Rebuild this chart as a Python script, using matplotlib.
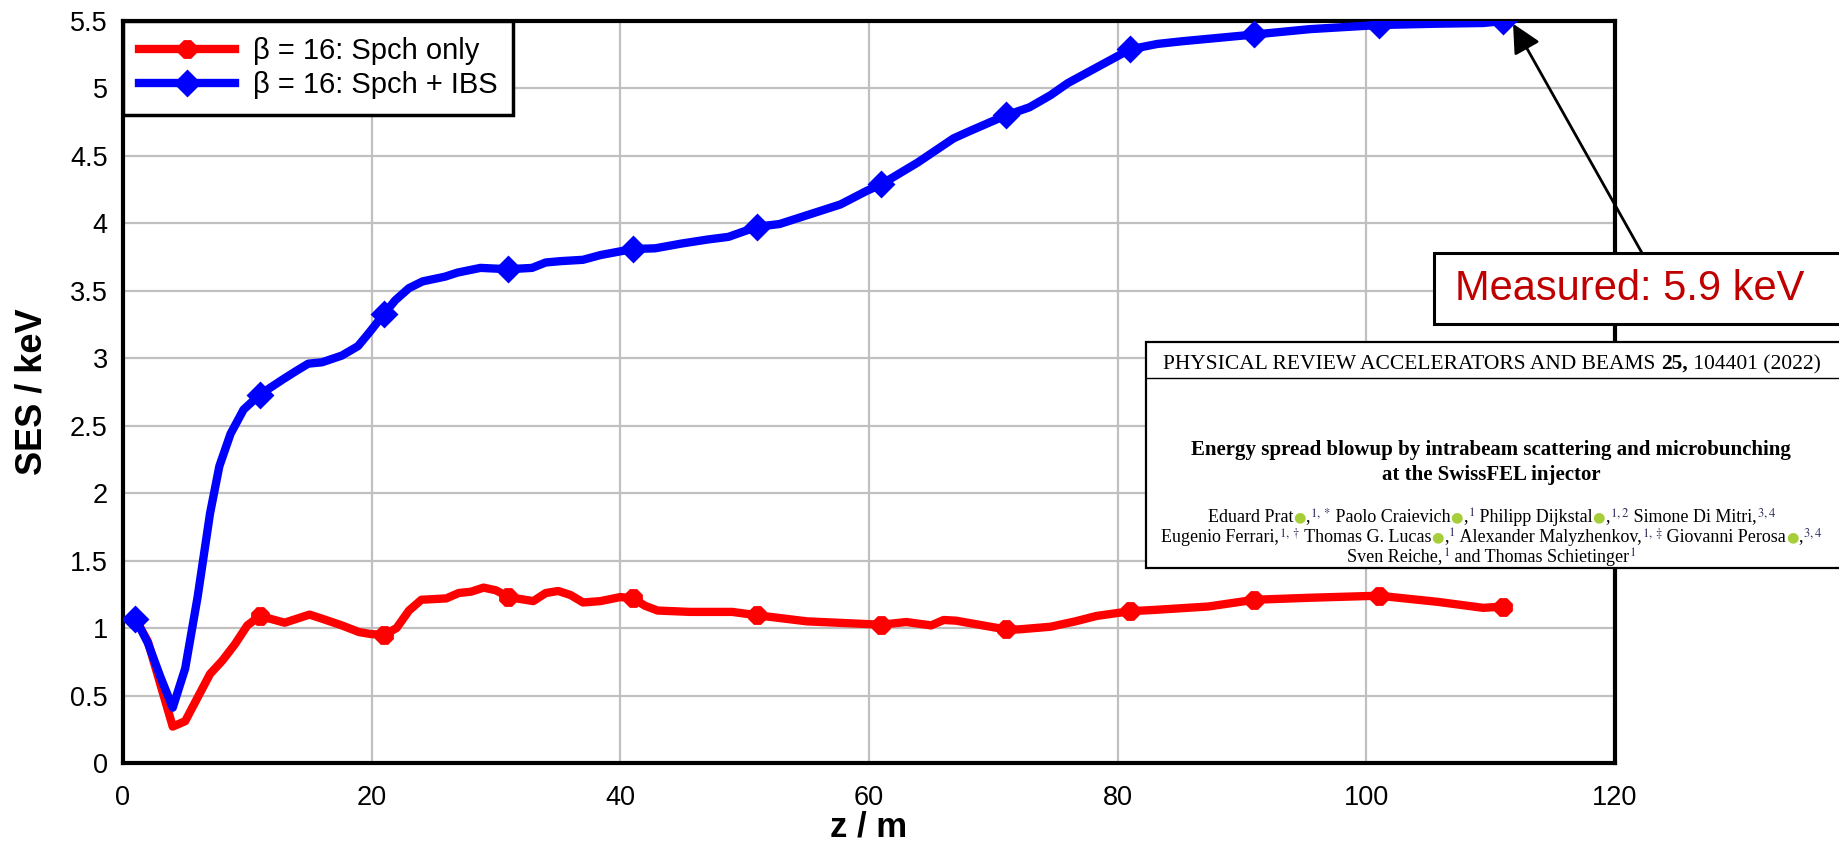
import matplotlib
matplotlib.use("Agg")
import matplotlib.pyplot as plt
from matplotlib.patches import Rectangle
from matplotlib.lines import Line2D
from matplotlib.offsetbox import TextArea, HPacker, AnnotationBbox

plt.rcParams['font.family'] = ['Liberation Sans', 'DejaVu Sans']
plt.rcParams['mathtext.fontset'] = 'stix'

# beta = 16, space charge only
z_spch = [1, 2, 4, 5, 7, 8, 9, 10, 11, 13,
          15, 16, 17.6, 19, 20, 21, 22, 23, 24, 26,
          27, 28, 29, 30, 31, 33, 34, 35, 36, 37,
          38.4, 40, 41, 42, 43, 45.6, 49, 51, 55, 61,
          63, 65, 66, 67, 71, 72, 74.6, 76.6, 78.3, 81,
          83, 87.3, 91, 95.5, 101, 105.7, 109.4, 111]
ses_spch = [1.07, 0.90, 0.27, 0.31, 0.66, 0.76, 0.88, 1.02, 1.09, 1.04,
            1.10, 1.07, 1.02, 0.97, 0.955, 0.95, 1.0, 1.13, 1.21, 1.22,
            1.26, 1.27, 1.30, 1.28, 1.23, 1.20, 1.26, 1.275, 1.245, 1.19,
            1.20, 1.23, 1.22, 1.165, 1.13, 1.12, 1.12, 1.095, 1.05, 1.025,
            1.045, 1.02, 1.06, 1.055, 0.99, 0.99, 1.01, 1.05, 1.09, 1.125,
            1.135, 1.16, 1.21, 1.225, 1.24, 1.195, 1.15, 1.16]

# beta = 16, space charge + intrabeam scattering
z_ibs = [1, 2, 3, 4, 5, 6, 7, 7.75, 8.65, 9.7,
         11, 12.8, 14, 14.9, 16, 17.6, 18.9, 19.8, 21, 21.9,
         23, 24.1, 25.9, 26.9, 28.75, 31, 32.9, 34, 35.2, 37,
         38.4, 41, 42.8, 44.9, 47, 48.7, 51, 52.8, 55, 57.7,
         59.8, 61, 63.9, 66.8, 68, 71, 72.9, 74.6, 76, 77.8,
         81, 83.2, 85.2, 91, 95.5, 101, 105.7, 109.4, 111]
ses_ibs = [1.07, 0.89, 0.64, 0.41, 0.70, 1.23, 1.85, 2.20, 2.44, 2.62,
           2.73, 2.84, 2.91, 2.96, 2.97, 3.02, 3.09, 3.19, 3.33, 3.43,
           3.52, 3.57, 3.605, 3.635, 3.67, 3.66, 3.67, 3.71, 3.72, 3.73,
           3.765, 3.81, 3.815, 3.85, 3.88, 3.90, 3.975, 3.995, 4.06, 4.14,
           4.24, 4.29, 4.45, 4.63, 4.68, 4.80, 4.86, 4.95, 5.04, 5.13,
           5.29, 5.33, 5.35, 5.40, 5.44, 5.47, 5.48, 5.485, 5.50]

marker_z = [1, 11, 21, 31, 41, 51, 61, 71, 81, 91, 101, 111]
labels = ["\u03b2 = 16: Spch only", "\u03b2 = 16: Spch + IBS"]
measured_text = "Measured: 5.9 keV"
measured_at = (111.8, 5.48)

x_ticks = [0, 20, 40, 60, 80, 100, 120]
y_ticks = [0, 0.5, 1, 1.5, 2, 2.5, 3, 3.5, 4, 4.5, 5, 5.5]
y_ticklabels = ["0", "0.5", "1", "1.5", "2", "2.5", "3", "3.5", "4", "4.5", "5", "5.5"]

W, H = 1839, 848


def fpx(x, y):
    # reference pixel (from top-left) -> figure pixels (from bottom-left)
    return (x, H - y)


fig = plt.figure(figsize=(W / 100, H / 100), dpi=100)
ax = fig.add_axes([123 / W, (H - 763) / H, (1615 - 123) / W, (763 - 21) / H])

idx_r = [i for i, z in enumerate(z_spch) if z in marker_z]
idx_b = [i for i, z in enumerate(z_ibs) if z in marker_z]
ax.plot(z_spch, ses_spch, color='#ff0000', lw=6, marker='8', ms=12.5, mew=2,
        markevery=idx_r, label=labels[0], solid_joinstyle='round', zorder=3)
ax.plot(z_ibs, ses_ibs, color='#0000ff', lw=6, marker='D', ms=12.5, mew=2,
        markevery=idx_b, label=labels[1], solid_joinstyle='round', zorder=4)

ax.set_xlim(0, 120)
ax.set_ylim(0, 5.5)
ax.set_xticks(x_ticks)
ax.set_yticks(y_ticks)
ax.set_yticklabels(y_ticklabels)
ax.tick_params(length=0, labelsize=19.5)
ax.tick_params(axis='x', pad=16)
ax.tick_params(axis='y', pad=11)
ax.grid(True, color='#c0c0c0', lw=1.6)
ax.set_axisbelow(True)
for sp in ax.spines.values():
    sp.set_linewidth(3)
    sp.set_color('black')

ax.set_xlabel("z / m", fontsize=25, fontweight='bold')
ax.set_ylabel("SES / keV", fontsize=26, fontweight='bold')
ax.xaxis.set_label_coords(0.5, -0.064)
ax.yaxis.set_label_coords(-0.049, 0.5)

leg = ax.legend(loc='upper left', fontsize=21, handlelength=3.3, handletextpad=0.6,
                borderaxespad=0, borderpad=0.55, labelspacing=0.2, fancybox=False,
                framealpha=1, edgecolor='black')
leg.get_frame().set_linewidth(2.5)

# arrow from the "Measured" box to the last point
ax.annotate("", xy=measured_at, xycoords='data',
            xytext=fpx(1642, 253), textcoords='figure pixels',
            arrowprops=dict(arrowstyle='-|>,head_length=0.7,head_width=0.35',
                            mutation_scale=25, lw=2, color='black',
                            shrinkA=0, shrinkB=0),
            annotation_clip=False, zorder=6)

# "Measured" box
x0, y0 = fpx(1434, 324)
fig.add_artist(Rectangle((x0 / W, y0 / H), (1860 - 1434) / W, (324 - 253) / H,
                         transform=fig.transFigure, facecolor='white',
                         edgecolor='black', lw=2.2, zorder=7, clip_on=False))
tx, ty = fpx(1455, 289)
fig.text(tx / W, ty / H, measured_text, color='#c00000', fontsize=30,
         ha='left', va='center', zorder=8)

# paper header inset
bx0, by0 = fpx(1146, 568)
fig.add_artist(Rectangle((bx0 / W, by0 / H), (1850 - 1146) / W, (568 - 342) / H,
                         transform=fig.transFigure, facecolor='white',
                         edgecolor='black', lw=1.6, zorder=7, clip_on=False))
ly = (H - 378) / H
fig.add_artist(Line2D([1146 / W, 1], [ly, ly], transform=fig.transFigure,
                      color='black', lw=1.0, zorder=8))

serif = ['Liberation Serif', 'DejaVu Serif']
orcid = '#a6ce39'


def add_line(pieces, xy, size):
    kids = []
    for txt, kind in pieces:
        props = dict(family=serif, fontsize=size, color='black')
        if kind == 'b':
            props['fontweight'] = 'bold'
        elif kind == 'id':
            props.update(color=orcid, fontsize=size * 0.8, family=['DejaVu Sans'])
        elif kind == 's':
            props['color'] = '#303060'
        kids.append(TextArea(txt, textprops=props))
    box = HPacker(children=kids, align='baseline', pad=0, sep=0)
    ab = AnnotationBbox(box, fpx(*xy), xycoords='figure pixels',
                        box_alignment=(0.5, 0.5), frameon=False, pad=0,
                        annotation_clip=False, zorder=9)
    fig.add_artist(ab)


add_line([("PHYSICAL REVIEW ACCELERATORS AND BEAMS ", 'n'), ("25,", 'b'),
          (" 104401 (2022)", 'n')], (1492, 364), 15.5)
add_line([("Energy spread blowup by intrabeam scattering and microbunching", 'b')],
         (1491, 450), 15)
add_line([("at the SwissFEL injector", 'b')], (1491, 475), 15)
add_line([("Eduard Prat", 'n'), ("\u25cf", 'id'), (",", 'n'), (r"$^{1,*}$", 's'),
          (" Paolo Craievich", 'n'), ("\u25cf", 'id'), (",", 'n'), (r"$^{1}$", 's'),
          (" Philipp Dijkstal", 'n'), ("\u25cf", 'id'), (",", 'n'), (r"$^{1,2}$", 's'),
          (" Simone Di Mitri,", 'n'), (r"$^{3,4}$", 's')], (1492, 517), 13)
add_line([("Eugenio Ferrari,", 'n'), (r"$^{1,\dagger}$", 's'),
          (" Thomas G. Lucas", 'n'), ("\u25cf", 'id'), (",", 'n'), (r"$^{1}$", 's'),
          (" Alexander Malyzhenkov,", 'n'), (r"$^{1,\ddagger}$", 's'),
          (" Giovanni Perosa", 'n'), ("\u25cf", 'id'), (",", 'n'), (r"$^{3,4}$", 's')],
         (1492, 537), 13)
add_line([("Sven Reiche,", 'n'), (r"$^{1}$", 's'), (" and Thomas Schietinger", 'n'),
          (r"$^{1}$", 's')], (1492, 557), 13)

fig.savefig("out.png", dpi=100)
